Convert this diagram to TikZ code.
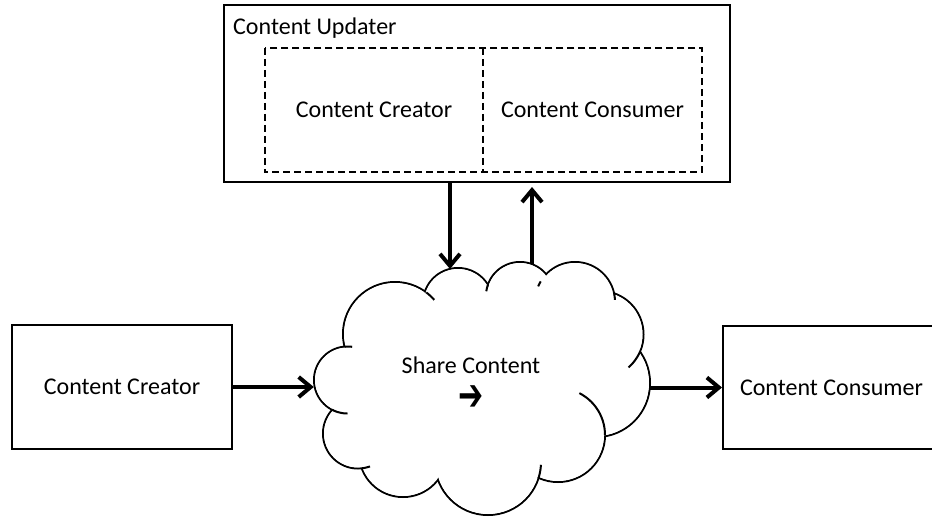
\documentclass[tikz,border=0pt]{standalone}
\usepackage{fontspec}
\setmainfont{Carlito}
\newfontfamily\djv{DejaVu Sans}
\usetikzlibrary{arrows.meta}
\begin{document}
\begin{tikzpicture}[x=1pt,y=-1pt,
  box/.style={draw, line width=2pt, rectangle, inner sep=0pt},
  dline/.style={line width=2pt, dash pattern=on 7pt off 4pt},
  lbl/.style={font=\fontsize{24}{28}\selectfont},
  arr/.style={line width=4pt, -{Straight Barb[length=12pt,width=20pt]}},
  cloudline/.style={line width=2pt}]
\clip (0,0) rectangle (932,517);
% top box
\node[box, minimum width=506pt, minimum height=177pt] (updater) at (477,93.5) {};
\node[lbl, anchor=base west, inner sep=0pt] (updlbl) at (233,34.5) {Content Updater};
\node[lbl, rectangle, inner sep=0pt, minimum width=218pt, minimum height=124pt] (increator) at (374,110) {Content Creator};
\node[lbl, rectangle, inner sep=0pt, minimum width=219pt, minimum height=124pt] (inconsumer) at (592.5,110) {Content Consumer};
\draw[dline] (increator.north west) rectangle (inconsumer.south east);
\draw[dline] (increator.north east) -- (increator.south east);
% side boxes
\node[box, lbl, minimum width=220pt, minimum height=124pt] (creator) at (122,387) {Content Creator};
\node[box, lbl, minimum width=217pt, minimum height=123pt] (consumer) at (831.5,387.5) {Content Consumer};
% cloud
\foreach \cx/\cy/\rr in {347.5/380/33.5, 395/334/52, 458/303/35, 520/296/34, 575/302/40, 600/334.5/43.5, 596/383/54, 558/435/47, 488/462/53, 403/453/44, 358/433.5/35}
  {\draw[cloudline] (\cx,\cy) circle[radius=\rr pt];}
\foreach \cx/\cy/\rr in {347.5/380/33.5, 395/334/52, 458/303/35, 520/296/34, 575/302/40, 600/334.5/43.5, 596/383/54, 558/435/47, 488/462/53, 403/453/44, 358/433.5/35}
  {\fill[white] (\cx,\cy) circle[radius=\rr pt - 1pt];}
\fill[white] (351,349) -- (429,298) -- (488,291) -- (542,285) -- (609,298) -- (634,353) -- (600,434) -- (535,473) -- (440,474) -- (367,465) -- (338,409) -- cycle;
\foreach \cx/\cy/\rr/\aa/\bb in {395/334/52/307/319, 520/296/34/188/199, 575/302/40/203/211, 575/302/40/347/357, 600/334.5/43.5/23.6/49, 558/435/47/297/360, 488/462/53/3/18, 358/433.5/35/70/83.4, 347.5/380/33.5/90/117, 347.5/380/33.5/266/278}
  {\draw[cloudline] plot[domain=\aa:\bb, samples=15, smooth] ({\cx+\rr*cos(\x)},{\cy+\rr*sin(\x)});}
\node[minimum width=336pt, minimum height=253pt, inner sep=0pt] (cloud) at (482,388.5) {};
\node[lbl, inner sep=0pt] (share) at (471,365) {Share Content};
\node[font=\djv\fontsize{30}{32}\selectfont, inner sep=0pt, yscale=1.5] (sharearrow) at (471,398.5) {➔};
% connectors
\coordinate (dtip) at (450,269);
\coordinate (ubase) at (532,264);
\draw[arr] (creator.east) -- (cloud.west |- creator.east);
\draw[arr] (cloud.east |- consumer.west) -- (consumer.west);
\draw[arr] (updater.south -| dtip) -- (dtip);
\draw[arr, shorten >=4pt] (ubase) -- (ubase |- updater.south);
\end{tikzpicture}
\end{document}
